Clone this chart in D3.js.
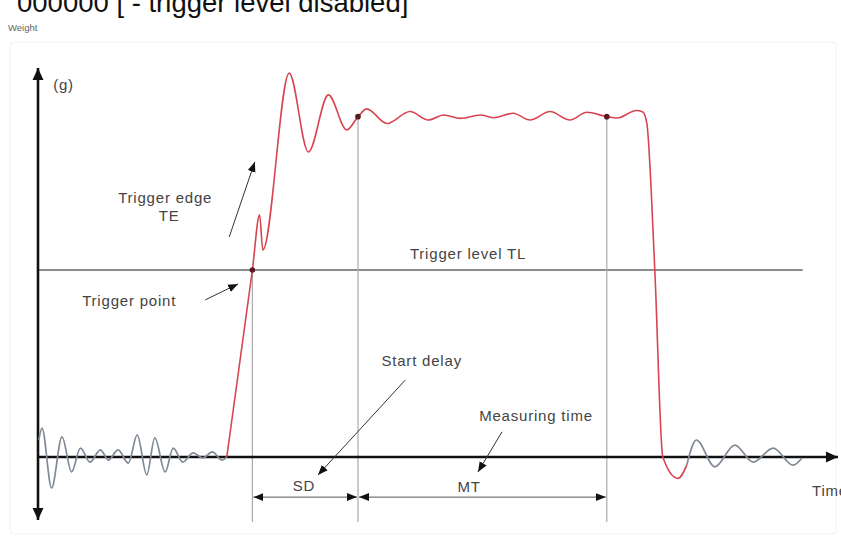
<!DOCTYPE html>
<html>
<head>
<meta charset="utf-8">
<script src="https://cdn.jsdelivr.net/npm/d3@7"></script>
<style>
  html, body { margin: 0; padding: 0; background: #fff; overflow: hidden; }
  svg { display: block; font-family: "Liberation Sans", Arial, sans-serif; }
</style>
</head>
<body>
<div id="chartArea"></div>
<script>
// signal before the trigger (gray ringing)
var preTime   = [0.1, 0.5, 1.7, 3.0, 4.2, 5.3, 6.5, 7.8, 8.8, 10.0, 11.3, 12.4, 13.6, 14.6, 15.9, 16.9, 18.1, 19.4, 20.6, 21.8, 23.0, 23.6];
var preWeight = [5.0, 8.5, -9.1, 5.9, -4.4, 2.6, -1.5, 2.1, -0.9, 2.1, -1.8, 6.5, -5.3, 5.6, -4.4, 2.6, -1.5, 1.2, -0.3, 1.5, -0.9, 0];

// weighed part (red)
var mainTime   = [23.6, 26.8, 27.7, 28.1, 31.4, 33.8, 36.3, 38.6, 40.0, 41.1, 43.6, 46.5, 48.8, 50.7, 52.8, 55.3, 56.9, 59.4, 61.5, 64.0, 66.5, 68.6, 71.1, 72.4, 74.8, 75.6, 76.1, 77.1, 78.1, 80.0, 81.1];
var mainWeight = [0, 55.0, 71.2, 60.9, 112.9, 89.7, 106.5, 96.2, 100.1, 102.4, 98.1, 101.6, 99.1, 100.6, 99.6, 100.6, 99.8, 101.1, 99.1, 101.6, 99.1, 101.4, 100.1, 99.7, 101.9, 101.5, 98.2, 55.0, 0, -6.3, -2.4];

// ringing after the product left (gray)
var postTime   = [81.1, 82.3, 84.6, 87.1, 89.4, 91.9, 94.4, 95.5];
var postWeight = [-2.4, 5.0, -2.9, 3.5, -1.5, 2.6, -2.4, -0.3];

var triggerLevel = 55;
var triggerTime = 26.8;
var startTime = 40.0;
var endTime = 71.1;

var title = "000000  [ - trigger level disabled]";

var width = 841, height = 541;

var svg = d3.select("#chartArea").append("svg")
    .attr("width", width)
    .attr("height", height);

// scales: time 0..100, weight in grams (plateau = 100)
var xScale = d3.scaleLinear().domain([0, 100]).range([38, 838]);
var yScale = d3.scaleLinear().domain([0, 100]).range([457, 117]);

var defs = svg.append("defs");
defs.append("marker")
    .attr("id", "arrow")
    .attr("markerUnits", "userSpaceOnUse")
    .attr("viewBox", "0 -5 10 10")
    .attr("refX", 10).attr("refY", 0)
    .attr("markerWidth", 10).attr("markerHeight", 10)
    .attr("orient", "auto-start-reverse")
  .append("path")
    .attr("d", "M0,-4L10,0L0,4Z")
    .attr("fill", "#111");
defs.append("marker")
    .attr("id", "axisArrow")
    .attr("markerUnits", "userSpaceOnUse")
    .attr("viewBox", "0 -6 12 12")
    .attr("refX", 12).attr("refY", 0)
    .attr("markerWidth", 12).attr("markerHeight", 12)
    .attr("orient", "auto-start-reverse")
  .append("path")
    .attr("d", "M0,-5.5L12,0L0,5.5Z")
    .attr("fill", "#111");

// header (cut off at the top of the image, as in the source)
svg.append("text")
    .attr("x", 17).attr("y", 12)
    .attr("font-size", 27.5)
    .attr("fill", "#111")
    .text(title);

svg.append("text")
    .attr("x", 8).attr("y", 31)
    .attr("font-size", 9.5)
    .attr("fill", "#666")
    .text("Weight");

// faint frame
svg.append("rect")
    .attr("x", 10).attr("y", 42)
    .attr("width", 826).attr("height", 492)
    .attr("rx", 4)
    .attr("fill", "none")
    .attr("stroke", "#f0f0f0");

var g = svg.append("g");

// trigger level line
g.append("line")
    .attr("x1", xScale(0)).attr("x2", xScale(95.6))
    .attr("y1", yScale(triggerLevel)).attr("y2", yScale(triggerLevel))
    .attr("stroke", "#666")
    .attr("stroke-width", 1.3);

// vertical guide lines
var guides = [[triggerTime, triggerLevel], [startTime, 100.1], [endTime, 100.1]];
g.selectAll("line.guide")
    .data(guides)
  .enter().append("line")
    .attr("class", "guide")
    .attr("x1", function(d) { return xScale(d[0]); })
    .attr("x2", function(d) { return xScale(d[0]); })
    .attr("y1", function(d) { return yScale(d[1]); })
    .attr("y2", yScale(-19.1))
    .attr("stroke", "#aaa")
    .attr("stroke-width", 1.2);

// SD / MT dimension lines
var spans = [[triggerTime, startTime], [startTime, endTime]];
g.selectAll("line.span")
    .data(spans)
  .enter().append("line")
    .attr("class", "span")
    .attr("x1", function(d) { return xScale(d[0]) + 1; })
    .attr("x2", function(d) { return xScale(d[1]) - 1; })
    .attr("y1", yScale(-11.8)).attr("y2", yScale(-11.8))
    .attr("stroke", "#555")
    .attr("stroke-width", 1)
    .attr("marker-start", "url(#arrow)")
    .attr("marker-end", "url(#arrow)");

// axes with arrows
g.append("line")
    .attr("x1", xScale(0)).attr("x2", xScale(0))
    .attr("y1", yScale(-18.5)).attr("y2", yScale(114.4))
    .attr("stroke", "#111")
    .attr("stroke-width", 2.6)
    .attr("marker-start", "url(#axisArrow)")
    .attr("marker-end", "url(#axisArrow)");
g.append("line")
    .attr("x1", xScale(0)).attr("x2", xScale(100))
    .attr("y1", yScale(0)).attr("y2", yScale(0))
    .attr("stroke", "#111")
    .attr("stroke-width", 2.6)
    .attr("marker-end", "url(#axisArrow)");

// signal
var valueline = d3.line()
    .x(function(d) { return xScale(d[0]); })
    .y(function(d) { return yScale(d[1]); })
    .curve(d3.curveMonotoneX);

function zipSeries(t, w) {
  return t.map(function(v, i) { return [v, w[i]]; });
}

g.append("path")
    .datum(zipSeries(preTime, preWeight))
    .attr("fill", "none")
    .attr("stroke", "#7f8a96")
    .attr("stroke-width", 1.7)
    .attr("d", valueline);
g.append("path")
    .datum(zipSeries(postTime, postWeight))
    .attr("fill", "none")
    .attr("stroke", "#7f8a96")
    .attr("stroke-width", 1.7)
    .attr("d", valueline);
g.append("path")
    .datum(zipSeries(mainTime, mainWeight))
    .attr("fill", "none")
    .attr("stroke", "#d8444f")
    .attr("stroke-width", 1.6)
    .attr("stroke-linejoin", "round")
    .attr("d", valueline);

// marked points
g.selectAll("circle")
    .data(guides)
  .enter().append("circle")
    .attr("cx", function(d) { return xScale(d[0]); })
    .attr("cy", function(d) { return yScale(d[1]); })
    .attr("r", 2.8)
    .attr("fill", "#5a1820");

// pointer arrows
var pointers = [
  [[23.9, 64.7], [27.1, 86.8]],
  [[20.9, 46.2], [25.0, 50.9]],
  [[45.9, 22.6], [35.0, -5.3]],
  [[58.0, 7.4], [55.0, -4.4]]
];
g.selectAll("line.pointer")
    .data(pointers)
  .enter().append("line")
    .attr("class", "pointer")
    .attr("x1", function(d) { return xScale(d[0][0]); })
    .attr("y1", function(d) { return yScale(d[0][1]); })
    .attr("x2", function(d) { return xScale(d[1][0]); })
    .attr("y2", function(d) { return yScale(d[1][1]); })
    .attr("stroke", "#333")
    .attr("stroke-width", 1)
    .attr("marker-end", "url(#arrow)");

// labels
var labels = [
  {text: "(g)", t: 1.9, w: 107.9, anchor: "start"},
  {text: "Trigger edge", t: 15.9, w: 74.7, anchor: "middle"},
  {text: "TE", t: 16.4, w: 69.4, anchor: "middle"},
  {text: "Trigger level TL", t: 53.75, w: 58.2, anchor: "middle"},
  {text: "Trigger point", t: 11.4, w: 44.4, anchor: "middle"},
  {text: "Start delay", t: 47.96, w: 26.8, anchor: "middle"},
  {text: "Measuring time", t: 62.25, w: 10.6, anchor: "middle"},
  {text: "SD", t: 33.25, w: -10.0, anchor: "middle"},
  {text: "MT", t: 53.9, w: -10.3, anchor: "middle"},
  {text: "Time", t: 96.75, w: -11.5, anchor: "start"}
];
g.selectAll("text.label")
    .data(labels)
  .enter().append("text")
    .attr("class", "label")
    .attr("x", function(d) { return xScale(d.t); })
    .attr("y", function(d) { return yScale(d.w); })
    .attr("text-anchor", function(d) { return d.anchor; })
    .attr("font-size", 15)
    .attr("letter-spacing", 0.8)
    .attr("fill", "#444")
    .text(function(d) { return d.text; });
</script>
</body>
</html>
